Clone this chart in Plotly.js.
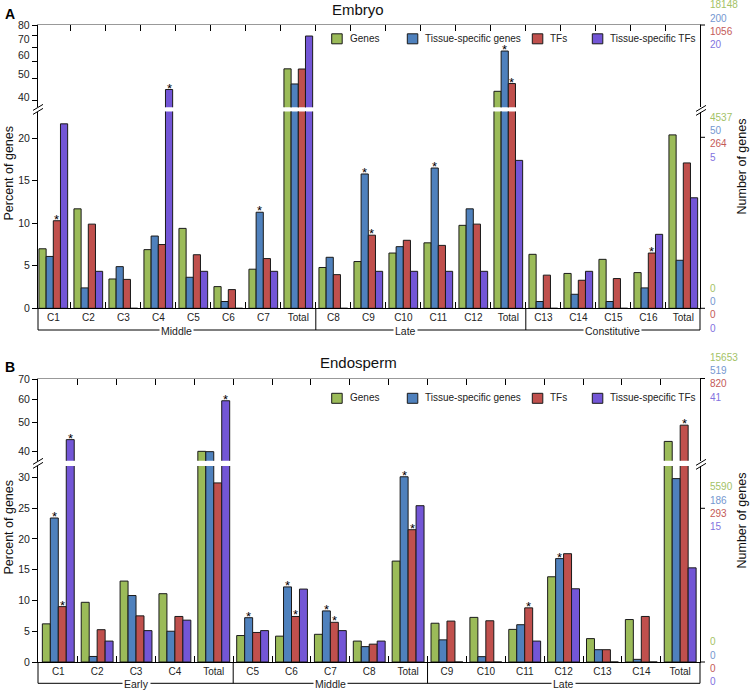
<!DOCTYPE html>
<html><head><meta charset="utf-8">
<script src="https://cdn.plot.ly/plotly-3.0.1.min.js"></script>
<style>html,body{margin:0;padding:0;background:#fff}#chart{width:750px;height:691px}</style>
</head><body><div id="chart"></div>
<script>
// ---------------- data ----------------
const seriesNames = ['Genes', 'Tissue-specific genes', 'TFs', 'Tissue-specific TFs'];

const embryoCategories = ['C1','C2','C3','C4','C5','C6','C7','Total','C8','C9','C10','C11','C12','Total','C13','C14','C15','C16','Total'];
const embryoGroups = ['Middle', 'Late', 'Constitutive'];
const embryoGenes   = [7.0, 11.7, 3.45, 6.9, 9.4, 2.55, 4.6, 45.5, 4.8, 5.5, 6.5, 7.7, 9.76, 34.0, 6.35, 4.1, 5.76, 4.2, 20.4];
const embryoTsGenes = [6.1, 2.4, 4.9, 8.5, 3.65, 0.8, 11.3, 37.4, 6.0, 15.8, 7.25, 16.5, 11.7, 57.3, 0.8, 1.65, 0.8, 2.4, 5.65];
const embryoTFs     = [10.3, 9.9, 3.4, 7.5, 6.3, 2.2, 5.85, 45.4, 3.96, 8.6, 8.0, 7.4, 9.9, 37.6, 3.9, 3.3, 3.5, 6.5, 17.1];
const embryoTsTFs   = [21.7, 4.35, 0, 34.8, 4.35, 0, 4.35, 69.6, 0, 4.35, 4.35, 4.35, 4.35, 17.4, 0, 4.35, 0, 8.7, 13.0];
const embryoStarGenes = [];
const embryoStarTsGenes = [6, 9, 11, 13];
const embryoStarTFs = [0, 9, 13, 17];
const embryoStarTsTFs = [3];
const embryoCountsTop = ['18148', '200', '1056', '20'];
const embryoCountsMid = ['4537', '50', '264', '5'];
const embryoCountsLow = ['0', '0', '0', '0'];
const embryoUpperTicks = [30, 40, 50, 60, 70, 80];
const embryoUpperLabels = ['80', '70', '60', '50', '40'];
const embryoUpperLabelVals = [80, 67.2, 54.2, 42.4, 31.6];

const endoCategories = ['C1','C2','C3','C4','Total','C5','C6','C7','C8','Total','C9','C10','C11','C12','C13','C14','Total'];
const endoGroups = ['Early', 'Middle', 'Late'];
const endoGenes   = [6.2, 9.7, 13.15, 11.1, 40.1, 4.3, 4.2, 4.5, 3.4, 16.4, 6.3, 7.25, 5.3, 13.85, 3.8, 6.9, 43.3];
const endoTsGenes = [23.4, 0.9, 10.8, 5.0, 40.0, 7.2, 12.2, 8.3, 2.5, 30.1, 3.6, 0.87, 6.06, 16.8, 2.0, 0.43, 29.8];
const endoTFs     = [9.0, 5.25, 7.5, 7.4, 29.1, 4.8, 7.4, 6.45, 2.9, 21.5, 6.65, 6.7, 8.8, 17.6, 2.0, 7.4, 49.1];
const endoTsTFs   = [43.9, 3.4, 5.1, 6.8, 59.3, 5.1, 11.85, 5.1, 3.4, 25.4, 0, 0, 3.4, 11.9, 0, 0, 15.3];
const endoStarGenes = [];
const endoStarTsGenes = [0, 5, 6, 7, 9, 13];
const endoStarTFs = [0, 6, 7, 9, 12, 16];
const endoStarTsTFs = [0, 4];
const endoCountsTop = ['15653', '519', '820', '41'];
const endoCountsMid = ['5590', '186', '293', '15'];
const endoCountsLow = ['0', '0', '0', '0'];
const endoUpperTicks = [40, 50, 60, 70];

const lowerTicks = [0, 5, 10, 15, 20, 25, 30];

// ---------------- styling / layout helpers ----------------
const seriesColors = ['#9BBB59', '#4F81BD', '#C0504D', '#7356D6'];
const countColors = ['#A3C266', '#7497D0', '#C45A57', '#8273E0'];
const FONT = 'Liberation Sans, Arial, sans-serif';
const BARGAP = 0.18;
const L = 38, R = 700, T = 25, B = 662;
const px = x => (x - L) / (R - L);
const py = y => (B - y) / (B - T);

const A = {upTop: 25, upBot: 107.3, loTop: 111.5, loBot: 308.3, bracket: 330, loMax: 23.15,
           upRange: [1.4415, 1.9047], xr: [-0.437, 18.477]};
const Bp = {upTop: 378.5, upBot: 460.7, loTop: 466, loBot: 662, bracket: 683.3, loMax: 31.85,
           upRange: [Math.log10(37.3), 1.8478], xr: [-0.522, 16.51]};

const starNotes = [];

function panelTraces(cats, vals, stars, xLo, yLo, xUp, yUp, loMax) {
  const x = cats.map((_, i) => i);
  const out = [];
  vals.forEach((v, s) => {
    const common = {
      type: 'bar', x: x, y: v, name: seriesNames[s], showlegend: false,
      marker: {color: seriesColors[s], line: {color: '#1a1a1a', width: 1}},
      hoverinfo: 'skip'
    };
    out.push(Object.assign({}, common, {xaxis: xLo, yaxis: yLo}));
    out.push(Object.assign({}, common, {xaxis: xUp, yaxis: yUp}));
    // significance stars, placed on top of the grouped bar they mark
    stars[s].forEach(i => {
      const up = v[i] > loMax;
      starNotes.push({
        xref: up ? xUp : xLo, yref: up ? yUp : yLo,
        x: i + (s - (vals.length - 1) / 2) * (1 - BARGAP) / vals.length,
        y: up ? Math.log10(v[i]) : v[i],
        text: '*', showarrow: false, xanchor: 'center', yanchor: 'bottom', yshift: -8,
        font: {family: FONT, size: 13, color: '#000'}
      });
    });
  });
  return out;
}

const data = [].concat(
  panelTraces(embryoCategories, [embryoGenes, embryoTsGenes, embryoTFs, embryoTsTFs],
    [embryoStarGenes, embryoStarTsGenes, embryoStarTFs, embryoStarTsTFs], 'x', 'y', 'x2', 'y2', A.loMax),
  panelTraces(endoCategories, [endoGenes, endoTsGenes, endoTFs, endoTsTFs],
    [endoStarGenes, endoStarTsGenes, endoStarTFs, endoStarTsTFs], 'x3', 'y3', 'x4', 'y4', Bp.loMax)
);

const tickFont = {family: FONT, size: 10.5, color: '#222'};
const boundaries = cats => cats.slice(1).map((_, i) => i + 0.5);

function xLower(cats, xr, anchor) {
  return {
    domain: [0, 1], anchor: anchor, range: xr, type: 'linear',
    tickmode: 'array', tickvals: cats.map((_, i) => i), ticktext: cats,
    ticks: 'inside', ticklen: 0, tickfont: {family: FONT, size: 10, color: '#222'},
    showline: true, linecolor: '#000', linewidth: 1, showgrid: false, zeroline: false,
    minor: {tickmode: 'array', tickvals: boundaries(cats), ticks: 'inside', ticklen: 6, tickcolor: '#000', tickwidth: 1, showgrid: false}
  };
}
function xUpper(cats, xr, anchor) {
  return {
    domain: [0, 1], anchor: anchor, range: xr, type: 'linear', side: 'top',
    tickmode: 'array', tickvals: boundaries(cats), ticks: 'inside', ticklen: 6, tickcolor: '#000',
    showticklabels: false, showline: true, linecolor: '#999', linewidth: 1, showgrid: false, zeroline: false
  };
}
function yAxisBase(extra) {
  return Object.assign({
    showline: true, linecolor: '#000', linewidth: 1, mirror: true,
    ticks: 'outside', ticklen: 5, tickcolor: '#000', tickfont: tickFont,
    showgrid: false, zeroline: false, tickmode: 'array'
  }, extra);
}

const layout = {
  width: 750, height: 691,
  margin: {l: L, r: 750 - R, t: T, b: 691 - B},
  paper_bgcolor: '#fff', plot_bgcolor: '#fff',
  font: {family: FONT, color: '#222'},
  barmode: 'group', bargap: BARGAP, bargroupgap: 0,
  hovermode: false, showlegend: false,
  xaxis: xLower(embryoCategories, A.xr, 'y'),
  xaxis2: xUpper(embryoCategories, A.xr, 'y2'),
  xaxis3: xLower(endoCategories, Bp.xr, 'y3'),
  xaxis4: xUpper(endoCategories, Bp.xr, 'y4'),
  yaxis: yAxisBase({anchor: 'x', domain: [py(A.loBot), py(A.loTop)], range: [0, A.loMax], tickvals: lowerTicks}),
  yaxis2: yAxisBase({anchor: 'x2', domain: [py(A.upBot), py(A.upTop)], type: 'log', range: A.upRange,
    tickvals: embryoUpperTicks, showticklabels: false}),
  yaxis3: yAxisBase({anchor: 'x3', domain: [py(Bp.loBot), py(Bp.loTop)], range: [0, Bp.loMax], tickvals: lowerTicks}),
  yaxis4: yAxisBase({anchor: 'x4', domain: [py(Bp.upBot), py(Bp.upTop)], type: 'log', range: Bp.upRange,
    tickvals: endoUpperTicks}),
  shapes: [],
  annotations: starNotes.slice()
};

const line = (x0, y0, x1, y1, xref) => ({type: 'line', xref: xref || 'paper', yref: 'paper',
  x0: x0, y0: y0, x1: x1, y1: y1, line: {color: '#000', width: 1}});
const note = o => Object.assign({xref: 'paper', yref: 'paper', showarrow: false,
  xanchor: 'center', yanchor: 'middle'}, o);

// upper-left labels of the embryo panel (as printed in the figure)
embryoUpperLabels.forEach((t, i) => layout.annotations.push(note({
  x: px(31.5), xanchor: 'right', yref: 'y2', y: Math.log10(embryoUpperLabelVals[i]), text: t, font: tickFont})));

function decorate(cats, groups, P, xref, title, letter, titleY, counts, countYs, rightTicks, groupShift, ylabelY, legendY) {
  const S = layout.shapes, N = layout.annotations;
  // bracket
  S.push(line(0, py(P.loBot), 0, py(P.bracket)));
  S.push(line(1, py(P.loBot), 1, py(P.bracket)));
  S.push(line(0, py(P.bracket), 1, py(P.bracket)));
  const totals = cats.map((c, i) => c === 'Total' ? i : -1).filter(i => i >= 0);
  totals.slice(0, -1).forEach(i => S.push(line(i + 0.5, py(P.loBot), i + 0.5, py(P.bracket), xref)));
  let start = 0;
  totals.forEach((end, g) => {
    const lo = Math.max(start - 0.5, P.xr[0]), hi = Math.min(end + 0.5, P.xr[1]);
    N.push(note({xref: xref, x: (lo + hi) / 2 + groupShift[g], y: py(P.bracket + 1),
      text: groups[g], bgcolor: '#fff', borderpad: 1,
      font: {family: FONT, size: 10.5, color: '#222'}}));
    start = end + 1;
  });
  // right-side ticks
  rightTicks.forEach(y => S.push(line(1, py(y), px(705), py(y))));
  // break marks
  const brk = (xc, yc) => {
    S.push(line(px(xc - 5), py(yc + 1), px(xc + 5), py(yc - 5)));
    S.push(line(px(xc - 5), py(yc + 5), px(xc + 5), py(yc - 1)));
  };
  const yb = (P.upBot + P.loTop) / 2;
  brk(L, yb); brk(R + 1, yb + 1);
  // legend
  const swX = [331.7, 407.3, 532.3, 592.3];
  seriesNames.forEach((n, s) => {
    S.push({type: 'rect', xref: 'paper', yref: 'paper', x0: px(swX[s]), x1: px(swX[s] + 10.5),
      y0: py(legendY + 5), y1: py(legendY - 5), fillcolor: seriesColors[s], line: {color: '#1a1a1a', width: 1}});
    N.push(note({x: px(swX[s] + 16), y: py(legendY - 0.5), xanchor: 'left', text: n,
      font: {family: FONT, size: 10, color: '#222'}}));
  });
  // texts
  N.push(note({x: px(358), y: py(titleY), text: title, font: {family: FONT, size: 15, color: '#111'}}));
  N.push(note({x: px(3), y: py(titleY - 6), xanchor: 'left', yanchor: 'top',
    text: '<b>' + letter + '</b>', font: {family: FONT, size: 14, color: '#000'}}));
  N.push(note({x: px(8.5), y: py(ylabelY), text: 'Percent of genes', textangle: -90,
    font: {family: FONT, size: 12.5, color: '#111'}}));
  N.push(note({x: px(741.5), y: py(ylabelY - 6), text: 'Number of genes', textangle: -90,
    font: {family: FONT, size: 12.5, color: '#111'}}));
  counts.forEach((grp, gi) => grp.forEach((t, k) => N.push(note({
    x: px(707.5), y: py(countYs[gi] + k * 13.3), xanchor: 'left',
    text: t, font: {family: FONT, size: 10, color: countColors[k]}}))));
}

decorate(embryoCategories, embryoGroups, A, 'x', 'Embryo', 'A', 9.5,
  [embryoCountsTop, embryoCountsMid, embryoCountsLow], [4.7, 117.3, 288.3], [A.upTop, 137.3, A.loBot],
  [0, -0.45, 0], 173, 38.8);
decorate(endoCategories, endoGroups, Bp, 'x3', 'Endosperm', 'B', 362.7,
  [endoCountsTop, endoCountsMid, endoCountsLow], [357.3, 486.7, 641.7], [Bp.upTop, 508.3, Bp.loBot],
  [0, 0, 0], 527, 398.3);

Plotly.newPlot('chart', data, layout, {displayModeBar: false, staticPlot: true});
</script>
</body></html>
